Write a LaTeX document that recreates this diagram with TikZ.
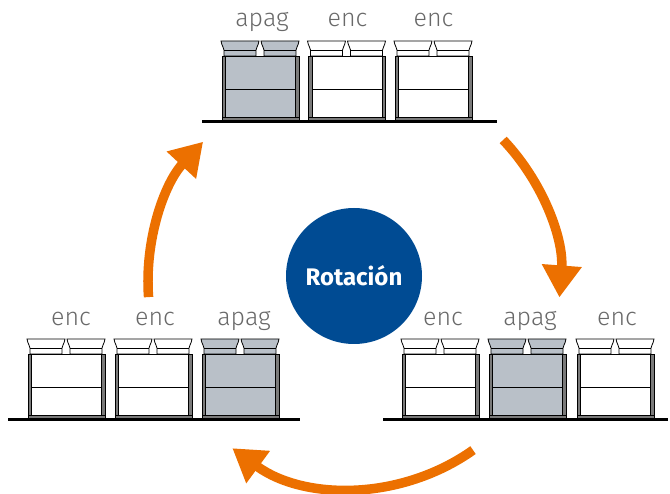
\documentclass[tikz,border=0pt]{standalone}
\usepackage{fontspec}
\setmainfont{Fira Sans}
\newfontfamily\thinfont{Fira Sans Light}
\usetikzlibrary{arrows.meta}

\definecolor{offfill}{RGB}{185,192,200}
\definecolor{framegrey}{RGB}{122,122,122}
\definecolor{labelgrey}{RGB}{105,105,105}
\definecolor{rotblue}{RGB}{0,75,147}
\definecolor{rotorange}{RGB}{236,112,0}

\tikzset{
  edge/.style={draw=black, line width=0.8pt},
  state/.style={font=\thinfont\fontsize{25}{28}\selectfont, text=labelgrey, anchor=base, inner sep=0pt},
  floor/.style={draw=black, line width=2.5pt},
  turnarrow/.style={draw=rotorange, line width=9.5pt, -{Triangle[width=38pt,length=32pt]}},
  hub/.style={circle, fill=rotblue, minimum size=136pt, inner sep=0pt, text=white,
    font=\bfseries\fontsize{24}{28}\selectfont},
  % one unit: two cushions, body with side frames, divider and plinth
  pics/unit/.style={code={
    \foreach \o in {-1,39}{
      \filldraw[edge, fill=#1] (\o,0) -- (\o+38,0)
        .. controls (\o+37.2,5) and (\o+35,7) .. (\o+35,9) -- (\o+35,15) -- (\o+3,15) -- (\o+3,9)
        .. controls (\o+3,7) and (\o+0.8,5) .. (\o,0) -- cycle;
      \draw[edge] (\o+3,9) -- (\o+35,9);
    }
    \filldraw[edge, fill=#1] (0,15) rectangle (77,76);
    \filldraw[edge, fill=framegrey] (0,15) rectangle (3.5,76);
    \filldraw[edge, fill=framegrey] (73.5,15) rectangle (77,76);
    \draw[edge] (3.5,48) -- (73.5,48);
    \filldraw[edge, fill=framegrey] (0,76) rectangle (77,80);
  }},
}

\begin{document}
\begin{tikzpicture}[x=1pt,y=-1pt]
\useasboundingbox (0,0) rectangle (670,494);

% top row
\pic at (222,41) {unit=offfill};
\pic at (308.5,41) {unit=white};
\pic at (395,41) {unit=white};
\coordinate (topL) at (202,121.5);
\coordinate (topR) at (497,121.5);
\draw[floor] (topL) -- (topR);
\node[state] (top1) at (262,27) {apag};
\node[state] (top2) at (347.5,27) {enc};
\node[state] (top3) at (433.5,27) {enc};

% lower left row
\pic at (28,339) {unit=white};
\pic at (115,339) {unit=white};
\pic at (202,339) {unit=offfill};
\coordinate (leftL) at (8,419.5);
\coordinate (leftR) at (300,419.5);
\draw[floor] (leftL) -- (leftR);
\node[state] (left1) at (71,326) {enc};
\node[state] (left2) at (155,326) {enc};
\node[state] (left3) at (244,326) {apag};

% lower right row
\pic at (402,339) {unit=white};
\pic at (489,339) {unit=offfill};
\pic at (577,339) {unit=white};
\coordinate (rightL) at (383,419.5);
\coordinate (rightR) at (668,419.5);
\draw[floor] (rightL) -- (rightR);
\node[state] (right1) at (443,326) {enc};
\node[state] (right2) at (530,326) {apag};
\node[state] (right3) at (617,326) {enc};

% centre label and the rotation arrows around it
\node[hub] (hub) at (354,276) {Rotación};
\coordinate (ring) at (354,282);
\draw[turnarrow] ([shift={(184.2:206pt)}]ring) arc[start angle=184.2, end angle=137.1, radius=206pt];
\draw[turnarrow] ([shift={(43.6:206pt)}]ring) arc[start angle=43.6, end angle=-4.3, radius=206pt];
\draw[turnarrow] ([shift={(-54.7:206pt)}]ring) arc[start angle=-54.7, end angle=-126.2, radius=206pt];
\end{tikzpicture}
\end{document}
